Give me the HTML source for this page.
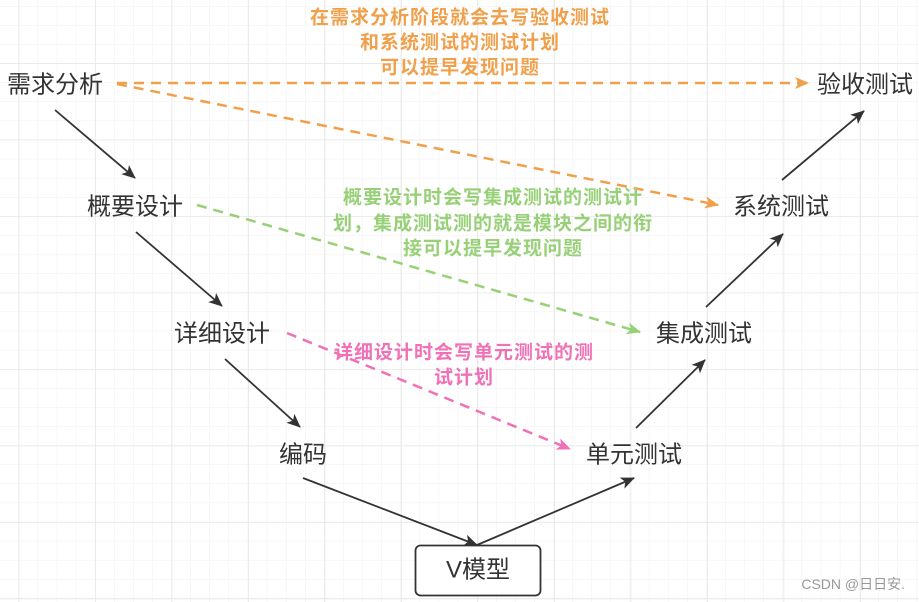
<!DOCTYPE html>
<html><head><meta charset="utf-8"><style>
html,body{margin:0;padding:0;width:919px;height:602px;overflow:hidden;background:#fff}
</style></head><body>
<svg width="919" height="602" xmlns="http://www.w3.org/2000/svg" font-family="'Liberation Sans','Noto Sans CJK SC',sans-serif">
<defs>
<pattern id="minor" width="19.1" height="19.1" patternUnits="userSpaceOnUse" x="18.5" y="6">
<path d="M0 0H19.1M0 0V19.1" stroke="#efefef" stroke-width="1" fill="none"/></pattern>
<pattern id="major" width="76.5" height="76.5" patternUnits="userSpaceOnUse" x="18.5" y="63">
<path d="M0 0H76.5M0 0V76.5" stroke="#e6e6e6" stroke-width="1.5" fill="none"/></pattern>
<marker id="a" markerWidth="14" markerHeight="14" refX="13" refY="7" orient="auto" markerUnits="userSpaceOnUse" viewBox="0 0 14 14"><path d="M0 1L14 7L0 13L3.5 7Z" fill="#333"/></marker>
<marker id="ao" markerWidth="14" markerHeight="14" refX="13" refY="7" orient="auto" markerUnits="userSpaceOnUse" viewBox="0 0 14 14"><path d="M0 1L14 7L0 13L3.5 7Z" fill="#f0a04b"/></marker>
<marker id="ag" markerWidth="14" markerHeight="14" refX="13" refY="7" orient="auto" markerUnits="userSpaceOnUse" viewBox="0 0 14 14"><path d="M0 1L14 7L0 13L3.5 7Z" fill="#97d077"/></marker>
<marker id="ap" markerWidth="14" markerHeight="14" refX="13" refY="7" orient="auto" markerUnits="userSpaceOnUse" viewBox="0 0 14 14"><path d="M0 1L14 7L0 13L3.5 7Z" fill="#f071b5"/></marker>
</defs>
<rect width="919" height="602" fill="url(#minor)"/>
<rect width="919" height="602" fill="url(#major)"/>
<g stroke="#333" stroke-width="1.8" fill="none" marker-end="url(#a)">
<line x1="55" y1="110" x2="135" y2="178"/>
<line x1="136" y1="232" x2="222" y2="306"/>
<line x1="225" y1="359" x2="300" y2="427"/>
<line x1="303" y1="478" x2="477" y2="545"/>
<line x1="477" y1="545" x2="634" y2="478"/>
<line x1="636" y1="428" x2="705" y2="360"/>
<line x1="706" y1="307" x2="783" y2="234"/>
<line x1="782" y1="180" x2="864" y2="111"/>
</g>
<g stroke-width="2.5" stroke-dasharray="10,7" fill="none">
<line x1="117" y1="83" x2="808" y2="83" stroke="#f0a04b" marker-end="url(#ao)"/>
<line x1="117" y1="84" x2="718" y2="205" stroke="#f0a04b" marker-end="url(#ao)"/>
<line x1="197" y1="205" x2="640" y2="332" stroke="#97d077" marker-end="url(#ag)"/>
<line x1="287" y1="333" x2="570" y2="449" stroke="#f071b5" marker-end="url(#ap)"/>
</g>
<rect x="415.5" y="545.5" width="125" height="50" rx="5" fill="#fff" stroke="#333" stroke-width="1.8"/>
<g font-size="24" fill="#333" text-anchor="middle" dominant-baseline="central">
<text x="55" y="85">需求分析</text>
<text x="865" y="85">验收测试</text>
<text x="135" y="207">概要设计</text>
<text x="781" y="207">系统测试</text>
<text x="222" y="334">详细设计</text>
<text x="704" y="334">集成测试</text>
<text x="303" y="455">编码</text>
<text x="634" y="455">单元测试</text>
<text x="478" y="570">V模型</text>
</g>
<g font-size="19" font-weight="bold" letter-spacing="1" text-anchor="middle" dominant-baseline="central">
<g fill="#f0a04b"><text x="460" y="18">在需求分析阶段就会去写验收测试</text><text x="460" y="43">和系统测试的测试计划</text><text x="460" y="68">可以提早发现问题</text></g>
<g fill="#97d077"><text x="493" y="198">概要设计时会写集成测试的测试计</text><text x="493" y="224">划，集成测试测的就是模块之间的衔</text><text x="493" y="249">接可以提早发现问题</text></g>
<g fill="#f071b5"><text x="464" y="353">详细设计时会写单元测试的测</text><text x="464" y="378">试计划</text></g>
</g>
<text x="905" y="584" font-size="14" fill="#999" text-anchor="end" dominant-baseline="central">CSDN @日日安.</text>
</svg>
</body></html>
